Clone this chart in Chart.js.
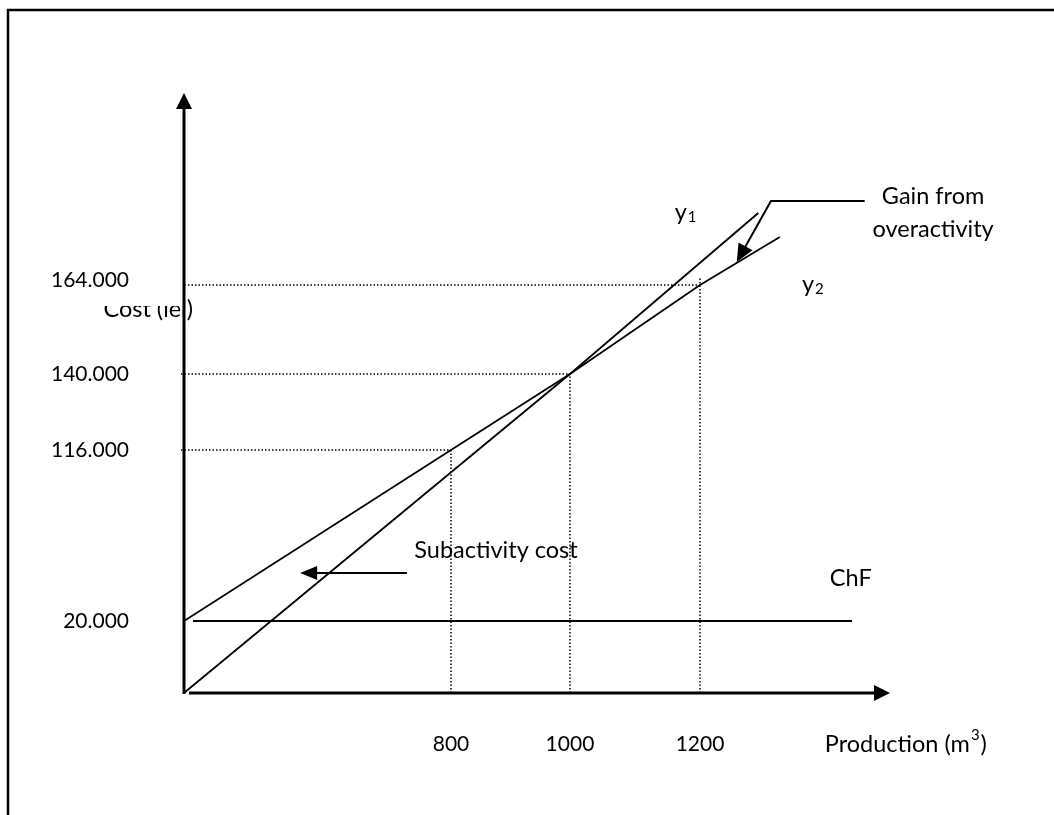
<!DOCTYPE html>
<html>
<head>
<meta charset="utf-8">
<script src="https://cdn.jsdelivr.net/npm/chart.js@4.4.0/dist/chart.umd.min.js"></script>
<style>
  html, body { margin: 0; padding: 0; background: #fff; }
  #wrap { width: 1054px; height: 815px; }
</style>
</head>
<body>
<div id="wrap"><canvas id="chart1"></canvas></div>
<script>
// ticks marked on the axes
var prodTicks = [800, 1000, 1200];
var prodTickLabels = ["800", "1000", "1200"];
var costTicks = [20000, 116000, 140000, 164000];
var costTickLabels = ["20.000", "116.000", "140.000", "164.000"];

// y1 = 140 q
var y1Prod = [0, 1000, 1292];
var y1Cost = [0, 140000, 185000];
// y2 = 20000 + 120 q
var y2Prod = [0, 800, 1000, 1200, 1326];
var y2Cost = [20000, 116000, 140000, 164000, 178000];
// fixed costs ChF
var chfProd = [27, 1440];
var chfCost = [20000, 20000];

// the annotation arrows
var subArrowProd = [668, 348];
var subArrowCost = [46950, 46950];
var gainArrowProd = [1460, 1312, 1258];
var gainArrowCost = [188500, 188500, 170700];

// the sketch is not drawn to scale, so each axis is stretched piece by piece
var axisKnots = {
  x: { vals: [0, 800, 1000, 1200, 1500], fracs: [0, 0.3782, 0.5467, 0.7309, 1] },
  y: { vals: [0, 20000, 116000, 140000, 164000, 220000], fracs: [0, 0.12, 0.405, 0.5317, 0.68, 1] }
};

function knotMap(from, to, v) {
  var i = 1;
  while (i < from.length - 1 && v > from[i]) i++;
  var t = (v - from[i - 1]) / (from[i] - from[i - 1]);
  return to[i - 1] + t * (to[i] - to[i - 1]);
}

class KnotScale extends Chart.LinearScale {
  getPixelForValue(value) {
    var k = axisKnots[this.id];
    var f = knotMap(k.vals, k.fracs, value);
    if (this.isHorizontal()) return this.left + f * this.width;
    return this.bottom - f * this.height;
  }
  getValueForPixel(pixel) {
    var k = axisKnots[this.id];
    var f = this.isHorizontal() ? (pixel - this.left) / this.width : (this.bottom - pixel) / this.height;
    return knotMap(k.fracs, k.vals, f);
  }
}
KnotScale.id = 'knot';
KnotScale.defaults = Chart.LinearScale.defaults;
Chart.register(KnotScale);

function pts(xs, ys) {
  var out = [];
  for (var i = 0; i < xs.length; i++) out.push({ x: xs[i], y: ys[i] });
  return out;
}

var FONT = "23.5px Lato, 'Liberation Sans', sans-serif";
var NUM = "21px Lato, 'Liberation Sans', sans-serif";
var SMALL = "15px Lato, 'Liberation Sans', sans-serif";

function arrowHead(ctx, x0, y0, x1, y1, len, half) {
  var a = Math.atan2(y1 - y0, x1 - x0);
  var c = Math.cos(a), s = Math.sin(a);
  ctx.beginPath();
  ctx.moveTo(x1, y1);
  ctx.lineTo(x1 - len * c - half * s, y1 - len * s + half * c);
  ctx.lineTo(x1 - len * c + half * s, y1 - len * s - half * c);
  ctx.closePath();
  ctx.fill();
}

function subText(ctx, base, sub, x, y) {
  ctx.font = FONT;
  ctx.textAlign = 'left';
  ctx.textBaseline = 'middle';
  ctx.fillText(base, x, y);
  var w = ctx.measureText(base).width;
  ctx.font = SMALL;
  ctx.fillText(sub, x + w + 1, y + 5);
}

var sketch = {
  id: 'sketch',
  beforeDatasetsDraw: function(chart) {
    var ctx = chart.ctx, X = chart.scales.x, Y = chart.scales.y;
    ctx.save();
    ctx.strokeStyle = '#000';
    ctx.lineWidth = 1.5;
    ctx.setLineDash([1.5, 2]);
    for (var i = 1; i <= 3; i++) {
      var px = X.getPixelForValue(y2Prod[i]);
      var py = Y.getPixelForValue(y2Cost[i]);
      ctx.beginPath();
      ctx.moveTo(X.getPixelForValue(0) - 3, py);
      ctx.lineTo(px, py);
      ctx.moveTo(px, Y.getPixelForValue(0));
      ctx.lineTo(px, i === 3 ? py - 8 : py);
      ctx.stroke();
    }
    ctx.restore();
  },
  afterDraw: function(chart) {
    var ctx = chart.ctx, X = chart.scales.x, Y = chart.scales.y;
    var x0 = X.getPixelForValue(0), y0 = Y.getPixelForValue(0);
    ctx.save();
    ctx.fillStyle = '#000';
    ctx.strokeStyle = '#000';

    // page frame
    ctx.lineWidth = 2.5;
    ctx.beginPath();
    ctx.moveTo(8, 815);
    ctx.lineTo(8, 10);
    ctx.lineTo(1054, 10);
    ctx.stroke();

    // axis title "Cost (lei)", partly hidden by the 164.000 label box
    ctx.font = FONT;
    ctx.textAlign = 'right';
    ctx.textBaseline = 'alphabetic';
    var cy = Y.getPixelForValue(157000);
    ctx.fillText('Cost (lei)', x0 + 9, cy + 6);
    ctx.fillStyle = '#fff';
    ctx.fillRect(x0 - 100, cy - 50, 99, 45);
    ctx.fillStyle = '#000';

    // y tick labels
    ctx.font = NUM;
    ctx.textBaseline = 'middle';
    for (var i = 0; i < costTicks.length; i++) {
      ctx.fillText(costTickLabels[i], x0 - 55, Y.getPixelForValue(costTicks[i]) - (i === 3 ? 5 : 0));
    }
    // x tick labels
    ctx.textAlign = 'center';
    for (var j = 0; j < prodTicks.length; j++) {
      ctx.fillText(prodTickLabels[j], X.getPixelForValue(prodTicks[j]), y0 + 51);
    }

    // axis title "Production (m3)"
    ctx.font = FONT;
    ctx.textAlign = 'left';
    var tx = X.getPixelForValue(1397), ty = y0 + 51;
    var t1 = 'Production (m';
    ctx.fillText(t1, tx, ty);
    var w1 = ctx.measureText(t1).width;
    ctx.font = SMALL;
    ctx.fillText('3', tx + w1 + 1, ty - 9);
    var w2 = ctx.measureText('3').width;
    ctx.font = FONT;
    ctx.fillText(')', tx + w1 + w2 + 2, ty);

    // axes with arrow tips
    ctx.lineWidth = 3;
    var yTop = Y.getPixelForValue(220000), xEnd = X.getPixelForValue(1500);
    ctx.beginPath();
    ctx.moveTo(x0, y0 + 1);
    ctx.lineTo(x0, yTop + 10);
    ctx.moveTo(X.getPixelForValue(15), y0);
    ctx.lineTo(xEnd - 10, y0);
    ctx.stroke();
    arrowHead(ctx, x0, y0, x0, yTop, 16, 8);
    arrowHead(ctx, x0, y0, xEnd, y0, 16, 8);

    // subactivity arrow
    ctx.lineWidth = 2;
    var sx0 = X.getPixelForValue(subArrowProd[0]), sx1 = X.getPixelForValue(subArrowProd[1]);
    var sy = Y.getPixelForValue(subArrowCost[0]);
    ctx.beginPath();
    ctx.moveTo(sx0, sy);
    ctx.lineTo(sx1 + 12, sy);
    ctx.stroke();
    arrowHead(ctx, sx0, sy, sx1, sy, 17, 7);

    // gain arrow with leader
    var g = [];
    for (var k = 0; k < gainArrowProd.length; k++) {
      g.push([X.getPixelForValue(gainArrowProd[k]), Y.getPixelForValue(gainArrowCost[k])]);
    }
    ctx.beginPath();
    ctx.moveTo(g[0][0], g[0][1]);
    ctx.lineTo(g[1][0], g[1][1]);
    ctx.lineTo(g[2][0] + (g[1][0] - g[2][0]) * 0.2, g[2][1] + (g[1][1] - g[2][1]) * 0.2);
    ctx.stroke();
    arrowHead(ctx, g[1][0], g[1][1], g[2][0], g[2][1], 18, 8);

    // notes
    ctx.font = FONT;
    ctx.textBaseline = 'middle';
    ctx.textAlign = 'left';
    ctx.fillText('Subactivity cost', X.getPixelForValue(690), Y.getPixelForValue(59900));
    ctx.fillText('ChF', X.getPixelForValue(1405), Y.getPixelForValue(44100));
    ctx.textAlign = 'center';
    ctx.fillText('Gain from', X.getPixelForValue(1568), Y.getPixelForValue(189700));
    ctx.fillText('overactivity', X.getPixelForValue(1568), Y.getPixelForValue(180300));
    subText(ctx, 'y', '1', X.getPixelForValue(1161), Y.getPixelForValue(185300));
    subText(ctx, 'y', '2', X.getPixelForValue(1361), Y.getPixelForValue(164300));
    ctx.restore();
  }
};

var lineStyle = { showLine: true, pointRadius: 0, borderColor: '#000', borderWidth: 1.8, fill: false, tension: 0 };

var datos = {
  type: 'scatter',
  data: {
    datasets: [
      Object.assign({ label: 'y1', data: pts(y1Prod, y1Cost) }, lineStyle),
      Object.assign({ label: 'y2', data: pts(y2Prod, y2Cost) }, lineStyle),
      Object.assign({ label: 'ChF', data: pts(chfProd, chfCost) }, lineStyle, { borderWidth: 2 })
    ]
  },
  options: {
    responsive: true,
    maintainAspectRatio: false,
    animation: false,
    events: [],
    layout: { padding: { left: 184, top: 93, right: 164, bottom: 122 } },
    scales: {
      x: { type: 'knot', min: 0, max: 1500, display: false },
      y: { type: 'knot', min: 0, max: 220000, display: false }
    },
    plugins: { legend: { display: false }, tooltip: { enabled: false } }
  },
  plugins: [sketch]
};

var canvas = document.getElementById('chart1').getContext('2d');
window.grafico = new Chart(canvas, datos);
</script>
</body>
</html>
